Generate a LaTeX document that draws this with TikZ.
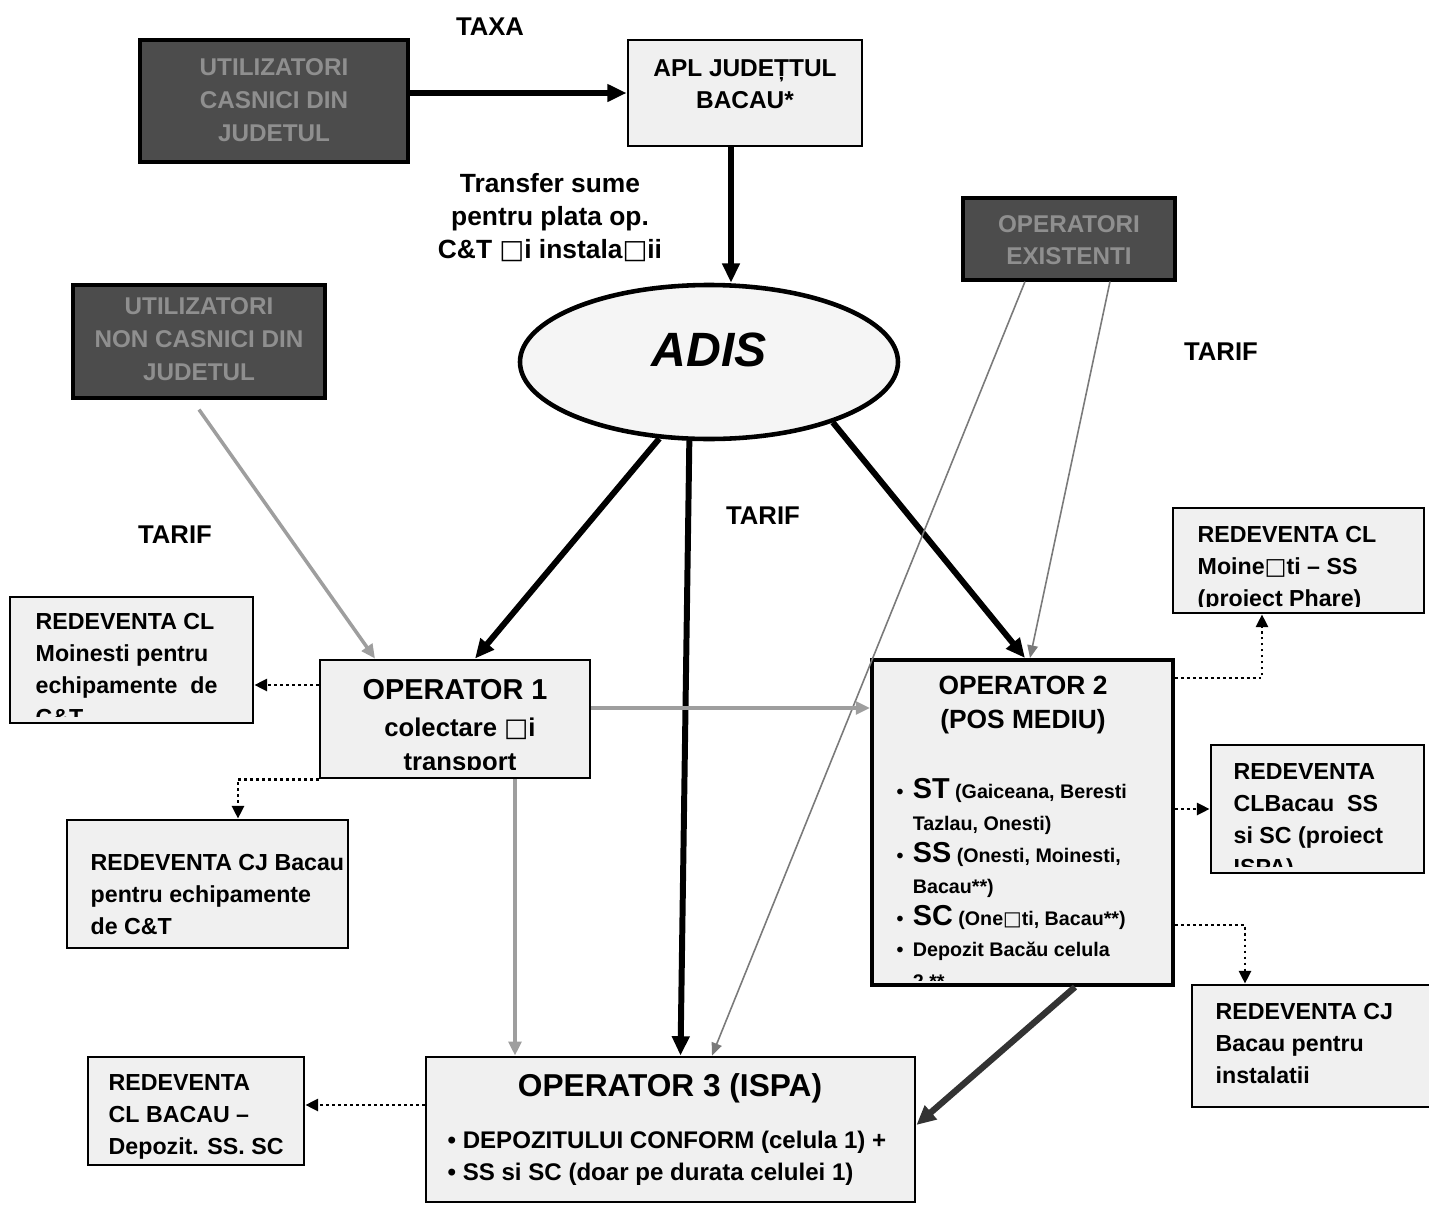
\documentclass[tikz,border=0pt]{standalone}
\usepackage{fontspec}
\setmainfont{Liberation Sans}
\newfontfamily\dejavu{DejaVu Sans}
\usetikzlibrary{arrows.meta,shapes.geometric,fit}
\newcommand{\sqg}{{\dejavu\mdseries\char"25A1}}
\definecolor{boxfill}{gray}{0.94}
\definecolor{ellfill}{gray}{0.96}
\definecolor{darkfill}{gray}{0.30}
\definecolor{darktext}{gray}{0.56}
\definecolor{lgarrow}{gray}{0.62}
\definecolor{mgarrow}{gray}{0.48}
\definecolor{dgarrow}{gray}{0.20}
\tikzset{
  box/.style={draw, line width=0.8pt, fill=boxfill, inner sep=0pt},
  boldbox/.style={box, line width=1.15pt},
  darkbox/.style={draw, line width=0.9pt, fill=darkfill, inner sep=0pt},
  txt/.style={inner sep=0pt, anchor=north west, align=left, font=\bfseries\fontsize{6.6}{9.1}\selectfont},
  dtxt/.style={inner sep=0pt, text=darktext, align=center, font=\bfseries\fontsize{6.9}{9.3}\selectfont},
  lbl/.style={inner sep=0pt, align=center, font=\bfseries\fontsize{7.3}{9.4}\selectfont},
  bigarr/.style={line width=1.7pt, -{Triangle[length=5.5pt,width=4.8pt]}},
  grayarr/.style={draw=lgarrow, line width=1pt, -{Triangle[length=4pt,width=3.6pt]}},
  thinarr/.style={draw=mgarrow, line width=0.45pt, -{Triangle[length=3.6pt,width=3pt]}},
  dgarr/.style={draw=dgarrow, line width=1.8pt, -{Triangle[length=5.5pt,width=5pt]}},
  dotarr/.style={line width=0.8pt, dash pattern=on 0.8pt off 0.9pt, -{Triangle[length=3.6pt,width=3.4pt]}}
}
\begin{document}
\begin{tikzpicture}[x=0.1mm, y=-0.1mm]
\useasboundingbox (0,0) rectangle (1429,1205);
\fill[white] (0,0) rectangle (1429,1205);

% ---------- boxes ----------
\node[darkbox, fit={(140,40)(408,162)}] (uc) {};
\node[dtxt] (uct) at (274,100) {UTILIZATORI\\CASNICI DIN\\JUDETUL};

\node[box, fit={(628,40)(862,146)}] (apl) {};
\node[inner sep=0pt, align=center, font=\bfseries\fontsize{6.95}{9.1}\selectfont] (aplt) at (745,84) {APL JUDEȚTUL\\BACAU*};

\node[darkbox, fit={(73,285)(325,398)}] (nc) {};
\node[dtxt] (nct) at (199,339) {UTILIZATORI\\NON CASNICI DIN\\JUDETUL};

\node[darkbox, fit={(963,198)(1175,280)}] (oe) {};
\node[dtxt] (oet) at (1069,240) {OPERATORI\\EXISTENTI};

\node[ellipse, draw, line width=1.3pt, fill=ellfill, minimum width=37.8mm, minimum height=15.4mm, inner sep=0pt] (adis) at (709,362) {};
\node[inner sep=0pt, font=\bfseries\itshape\fontsize{13.7}{16}\selectfont] (adist) at (709,350) {ADIS};

% labels
\node[lbl] (taxa) at (490,27) {TAXA};
\node[lbl, font=\bfseries\fontsize{7.5}{9.4}\selectfont] (transf) at (550,218) {Transfer sume\\pentru plata op.\\C\&T \sqg i instala\sqg ii};
\node[lbl] (tarif1) at (1221,352) {TARIF};
\node[lbl] (tarif2) at (175,535) {TARIF};
\node[lbl] (tarif3) at (763,516) {TARIF};

% operator 1
\node[box, fit={(320,660)(590,778)}] (op1) {};
\node[inner sep=0pt, font=\bfseries\fontsize{8.2}{10}\selectfont] (op1a) at (455,690) {OPERATOR 1};
\begin{scope}
\clip (op1.north west) rectangle ([yshift=1mm]op1.south east);
\node[inner sep=0pt, anchor=north, align=center, font=\bfseries\fontsize{7.3}{9.7}\selectfont] (op1b) at (460,717) {colectare \sqg i\\transport};
\end{scope}

% operator 2
\node[boldbox, fit={(872,660)(1173,985)}] (op2) {};
\node[inner sep=0pt, align=center, font=\bfseries\fontsize{7.5}{9.6}\selectfont] (op2a) at (1023,705) {OPERATOR 2\\(POS MEDIU)};
\begin{scope}
\clip (op2.north west) rectangle ([yshift=0.7mm]op2.south east);
\node[txt, font=\bfseries\fontsize{5.6}{9}\selectfont] (op2b) at (896,778) {%
\makebox[4.6pt][l]{•}{\fontsize{8.2}{9}\selectfont ST} (Gaiceana, Beresti\\
\hspace*{4.6pt}Tazlau, Onesti)\\
\makebox[4.6pt][l]{•}{\fontsize{8.2}{9}\selectfont SS} (Onesti, Moinesti,\\
\hspace*{4.6pt}Bacau**)\\
\makebox[4.6pt][l]{•}{\fontsize{8.2}{9}\selectfont SC} (One\sqg ti, Bacau**)\\
\makebox[4.6pt][l]{•}Depozit Bacău celula\\
\hspace*{4.6pt}2 **};
\end{scope}

% operator 3
\node[box, fit={(426,1057)(915,1202)}] (op3) {};
\node[inner sep=0pt, font=\bfseries\fontsize{9}{11}\selectfont] (op3a) at (670,1088) {OPERATOR 3 (ISPA)};
\node[txt, font=\bfseries\fontsize{6.85}{9.1}\selectfont] (op3b) at (447,1130) {• DEPOZITULUI CONFORM (celula 1) +\\• SS si SC (doar pe durata celulei 1)};

% redeventa boxes
\node[box, fit={(10,597)(253,723)}] (r1) {};
\begin{scope}
\clip (r1.north west) rectangle ([yshift=0.8mm]r1.south east);
\node[txt] (r1t) at (35,613) {REDEVENTA CL\\Moinesti pentru\\echipamente\ \ de\\C\&T};
\end{scope}

\node[box, fit={(67,820)(348,948)}] (r2) {};
\node[txt] (r2t) at (90,854) {REDEVENTA CJ Bacau\\pentru echipamente\\de C\&T};

\node[box, fit={(88,1057)(304,1165)}] (r3) {};
\node[txt] (r3t) at (108,1074) {REDEVENTA\\CL BACAU –\\Depozit. SS. SC};

\node[box, fit={(1173,508)(1424,613)}] (r4) {};
\begin{scope}
\clip (r4.north west) rectangle ([yshift=0.8mm]r4.south east);
\node[txt] (r4t) at (1197,526) {REDEVENTA CL\\Moine\sqg ti – SS\\(proiect Phare)};
\end{scope}

\node[box, fit={(1211,745)(1424,873)}] (r5) {};
\begin{scope}
\clip (r5.north west) rectangle ([yshift=0.8mm]r5.south east);
\node[txt] (r5t) at (1233,763) {REDEVENTA\\CLBacau\ \ SS\\si SC (proiect\\ISPA)};
\end{scope}

\node[box, fit={(1192,985)(1440,1107)}] (r6) {};
\node[txt] (r6t) at (1215,1003) {REDEVENTA CJ\\Bacau pentru\\instalatii};

% ---------- connectors ----------
\draw[bigarr] (uc.east |- apl) -- (apl.west);
\draw[bigarr] ([xshift=-1.4mm]apl.south) -- ([xshift=-1.4mm]apl.south |- adis.north);
\draw[bigarr] (adis.237) -- ([xshift=2mm]op1.north);
\draw[bigarr] (adis.256) -- ([xshift=1mm]op3.north);
\draw[bigarr] (adis.334) -- ([xshift=0.25mm]op2.north);

\draw[grayarr] ([yshift=-1mm]nc.south) -- ([xshift=-8mm]op1.north);
\draw[thinarr] ([xshift=-4.4mm]oe.south) -- ([xshift=4.15mm]op3.north);
\draw[thinarr] ([xshift=4.1mm]oe.south) -- ([xshift=0.75mm]op2.north);
\coordinate (p12) at ([yshift=1.1mm]op1.east);
\draw[grayarr] (p12) -- (p12 -| op2.west);
\coordinate (p13) at ([xshift=6mm]op1.south);
\draw[grayarr] (p13) -- (p13 |- op3.north);
\draw[dgarr] ([xshift=5.25mm]op2.south) -- ([yshift=0.45mm]op3.east);

% dotted
\coordinate (p1r1) at ([yshift=3.4mm]op1.west);
\draw[dotarr] (p1r1) -- (p1r1 -| r1.east);
\draw[dotarr] (op1.south west) -| ([xshift=3.05mm]r2.north);
\draw[dotarr] ([yshift=-2mm]op2.north east) -| ([xshift=-3.65mm]r4.south);
\draw[dotarr] (op2.east |- r5.west) -- (r5.west);
\draw[dotarr] ([yshift=-10.25mm]op2.east) -| ([xshift=-7.1mm]r6.north);
\coordinate (p3r3) at ([yshift=0.6mm]r3.east);
\draw[dotarr] (p3r3 -| op3.west) -- (p3r3);
\end{tikzpicture}
\end{document}
